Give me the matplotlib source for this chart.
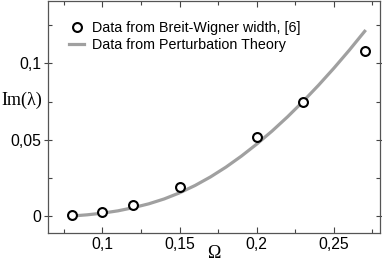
import matplotlib
matplotlib.use("Agg")
import matplotlib.pyplot as plt
from matplotlib.ticker import MultipleLocator, FuncFormatter

# Breit-Wigner width data points
omega_bw = [0.08, 0.10, 0.12, 0.15, 0.20, 0.23, 0.27]
im_bw = [0.0007, 0.0024, 0.0070, 0.0190, 0.0517, 0.0750, 0.1083]

# perturbation theory curve
omega_pt = [0.08, 0.09, 0.10, 0.11, 0.12, 0.13, 0.14, 0.15, 0.16, 0.17,
            0.18, 0.19, 0.20, 0.21, 0.22, 0.23, 0.24, 0.25, 0.26, 0.27]
im_pt = [0.0000, 0.0008, 0.0019, 0.0034, 0.0055, 0.0080, 0.0112, 0.0152,
         0.0200, 0.0256, 0.0320, 0.0392, 0.0471, 0.0557, 0.0650, 0.0750,
         0.0856, 0.0968, 0.1086, 0.1210]

label_bw = "Data from Breit-Wigner width, [6]"
label_pt = "Data from Perturbation Theory"

plt.rcParams['font.family'] = ['Liberation Sans', 'DejaVu Sans']

fig = plt.figure(figsize=(3.82, 2.62), dpi=100)
ax = fig.add_axes([0.1257, 0.1107, 0.869, 0.886])

ax.plot(omega_bw, im_bw, 'o', ms=6.4, mfc='white', mec='black', mew=1.5,
        label=label_bw, zorder=3)
ax.plot(omega_pt, im_pt, '-', color='#a0a0a0', lw=2.3, label=label_pt, zorder=2)

ax.set_xlim(0.0647, 0.2799)
ax.set_ylim(-0.0111, 0.1409)

ax.xaxis.set_major_locator(MultipleLocator(0.05))
ax.xaxis.set_minor_locator(MultipleLocator(0.025))
ax.yaxis.set_major_locator(MultipleLocator(0.05))
ax.yaxis.set_minor_locator(MultipleLocator(0.025))

def comma(v, pos):
    s = f"{v:.2f}".rstrip('0').rstrip('.')
    if s in ("-0", ""):
        s = "0"
    return s.replace('.', ',')

ax.xaxis.set_major_formatter(FuncFormatter(comma))
ax.yaxis.set_major_formatter(FuncFormatter(comma))

ax.tick_params(which='both', direction='in', top=True, right=True,
               colors='#444444', labelcolor='black', labelsize=11.3, width=0.8)
ax.tick_params(which='major', length=4, pad=3)
ax.tick_params(which='minor', length=3)
ax.tick_params(axis='y', which='major', direction='inout', length=6, pad=2)

for sp in ax.spines.values():
    sp.set_color('#555555')
    sp.set_linewidth(0.9)

ax.set_xlabel("Ω", family=['Liberation Serif', 'DejaVu Serif'], fontsize=13,
              labelpad=-5)
ax.set_ylabel("Im(λ)", family=['Liberation Serif', 'DejaVu Serif'], fontsize=13,
              rotation=0, va='center', ha='center')
ax.yaxis.set_label_coords(-0.078, 0.573)

ax.legend(loc='upper left', bbox_to_anchor=(0.045, 0.94), frameon=False,
          fontsize=10.3, handlelength=1.1, handletextpad=0.55,
          borderaxespad=0, labelspacing=0.25)

fig.savefig("out.png", dpi=100)
